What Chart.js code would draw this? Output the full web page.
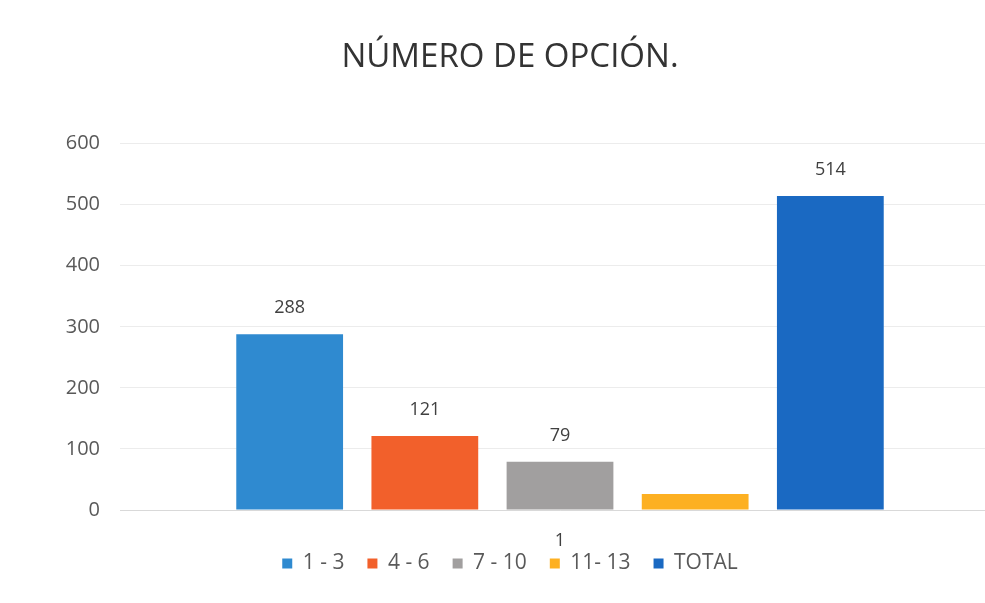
<!DOCTYPE html>
<html>
<head>
<meta charset="utf-8">
<script src="https://cdn.jsdelivr.net/npm/chart.js@4.4.0/dist/chart.umd.min.js"></script>
<style>
  html, body { margin: 0; padding: 0; background: #fff; overflow: hidden; }
  #wrap { width: 1020px; height: 603px; }
</style>
</head>
<body>
<div id="wrap"><canvas id="chart"></canvas></div>
<script>
// bar chart "número de opción", one dataset per range so each gets a legend entry
const categories = [''];
const seriesNames = ['1 - 3', '4 - 6', '7 - 10', '11- 13', 'TOTAL'];
const seriesValues = [288, 121, 79, 26, 514];
const valueLabels = ['288', '121', '79', '1', '514'];
const seriesColors = ['#2f8ad0', '#f2602b', '#a19f9f', '#fdb022', '#1a69c2'];
const yTicks = [0, 100, 200, 300, 400, 500, 600];

// draws the number on top of each bar (the yellow one sits under the axis in the original)
const barLabels = {
  id: 'barLabels',
  afterDatasetsDraw(chart) {
    const ctx = chart.ctx;
    ctx.save();
    ctx.font = '18px "Open Sans", sans-serif';
    ctx.fillStyle = '#404040';
    ctx.textAlign = 'center';
    ctx.textBaseline = 'middle';
    chart.data.datasets.forEach((ds, i) => {
      const bar = chart.getDatasetMeta(i).data[0];
      if (i === 3) {
        const mid = chart.getDatasetMeta(2).data[0];
        ctx.fillText(valueLabels[i], mid.x, bar.base + 31);
      } else {
        ctx.fillText(valueLabels[i], bar.x, bar.y - 26);
      }
    });
    ctx.restore();
  }
};

new Chart(document.getElementById('chart'), {
  type: 'bar',
  data: {
    labels: categories,
    datasets: seriesNames.map((name, i) => ({
      label: name,
      data: [seriesValues[i]],
      backgroundColor: seriesColors[i],
      categoryPercentage: 0.768,
      barPercentage: 0.79
    }))
  },
  options: {
    responsive: true,
    maintainAspectRatio: false,
    animation: false,
    layout: { padding: { left: 20, right: 20, top: 38, bottom: 19 } },
    plugins: {
      title: {
        display: true,
        text: 'NÚMERO DE OPCIÓN.',
        color: '#333',
        font: { family: 'Open Sans', size: 33, weight: 'normal' },
        padding: { top: 0, bottom: 66 }
      },
      legend: {
        position: 'bottom',
        labels: {
          boxWidth: 10,
          boxHeight: 10,
          padding: 23,
          color: '#595959',
          font: { family: 'Open Sans', size: 21 }
        }
      },
      tooltip: { enabled: false }
    },
    scales: {
      x: {
        grid: { display: false },
        border: { display: true, color: '#d9d9d9' },
        ticks: { display: false },
        afterFit: axis => { axis.height = 20; }
      },
      y: {
        min: 0,
        max: 600,
        afterBuildTicks: axis => { axis.ticks = yTicks.map(v => ({ value: v })); },
        afterFit: axis => { axis.width = 100; },
        grid: { color: '#ececec', drawTicks: false },
        border: { display: false },
        ticks: {
          padding: 20,
          color: '#595959',
          font: { family: 'Open Sans', size: 20 }
        }
      }
    }
  },
  plugins: [barLabels]
});
</script>
</body>
</html>
